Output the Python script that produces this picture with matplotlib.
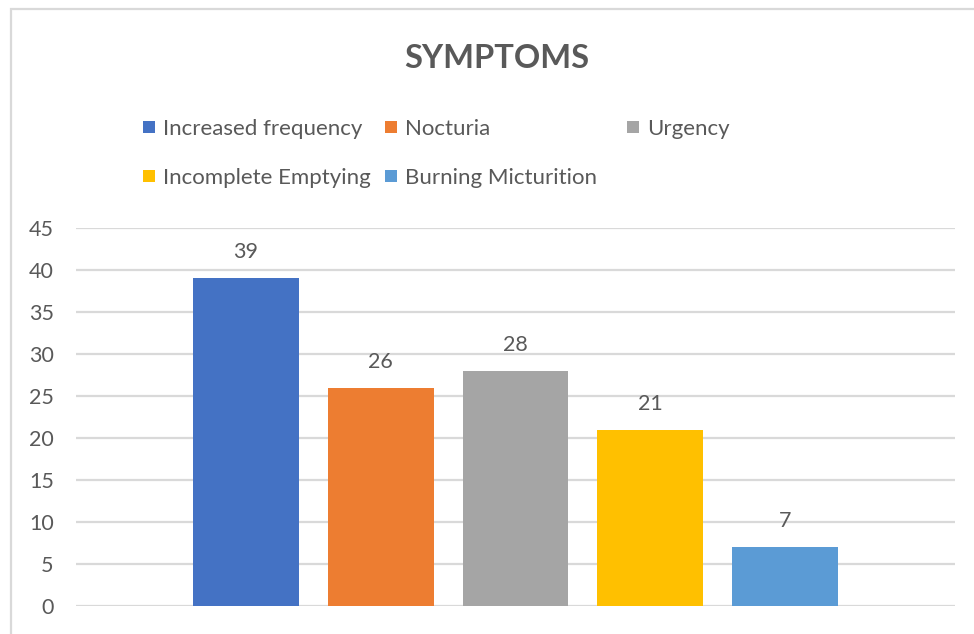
import matplotlib.pyplot as plt
from matplotlib.patches import Rectangle

# symptom counts
symptoms = ['Increased frequency', 'Nocturia', 'Urgency',
            'Incomplete Emptying', 'Burning Micturition']
counts = [39, 26, 28, 21, 7]
colors = ['#4472C4', '#ED7D31', '#A5A5A5', '#FFC000', '#5B9BD5']
yticks = [0, 5, 10, 15, 20, 25, 30, 35, 40, 45]

plt.rcParams['font.family'] = ['Lato', 'DejaVu Sans']
txt = '#595959'
grid = '#D9D9D9'

W, H = 974, 634
fig = plt.figure(figsize=(W / 100, H / 100), dpi=100)

# chart frame
fig.patches.append(Rectangle((11 / W, -0.1), 1.2, (H - 9) / H + 0.1,
                             transform=fig.transFigure, fill=False,
                             edgecolor=grid, linewidth=1.6))

ax = fig.add_axes([76 / W, (H - 606) / H, (955 - 76) / W, (606 - 228) / H])
x = list(range(len(counts)))
bars = ax.bar(x, counts, width=0.785, color=colors, zorder=3)
for b, v in zip(bars, counts):
    ax.text(b.get_x() + b.get_width() / 2, v + 1.9, str(v),
            ha='center', va='bottom', fontsize=15.5, color=txt)

ax.set_xlim(-1.26, 5.26)
ax.set_ylim(0, 45)
ax.set_yticks(yticks)
ax.set_xticks([])
ax.tick_params(axis='y', length=0, pad=16, labelsize=15.5, labelcolor=txt)
ax.grid(axis='y', color=grid, linewidth=1.6, zorder=0)
for s in ax.spines.values():
    s.set_visible(False)

fig.text(497 / W, 1 - 58 / H, 'SYMPTOMS', ha='center', va='center',
         fontsize=23.5, fontweight='bold', color=txt)

# legend, three entries per row
for i, (lab, col) in enumerate(zip(symptoms, colors)):
    row, c = divmod(i, 3)
    lx = 143 + 242 * c
    ly = 127 + 49 * row
    fig.patches.append(Rectangle((lx / W, 1 - (ly + 6) / H), 12 / W, 12 / H,
                                 transform=fig.transFigure, facecolor=col,
                                 edgecolor='none'))
    fig.text((lx + 20) / W, 1 - ly / H, lab, ha='left', va='center_baseline',
             fontsize=16, color=txt)

fig.savefig('out.png', dpi=100)
